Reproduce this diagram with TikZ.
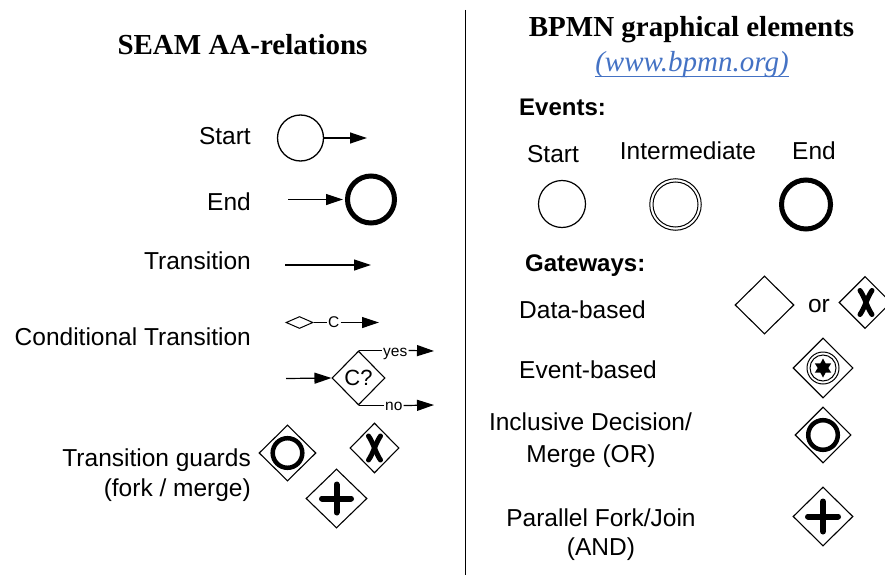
\documentclass[tikz,border=0pt]{standalone}
\usepackage{fontspec}
\setmainfont{Liberation Sans}
\newfontfamily\titlefont{Liberation Serif}
\usetikzlibrary{arrows.meta,shapes.geometric}
\definecolor{linkblue}{RGB}{68,114,196}
\begin{document}
\begin{tikzpicture}[x=1pt,y=-1pt,
  lbl/.style={inner sep=0pt,font=\fontsize{24.5}{29}\selectfont},
  hdr/.style={inner sep=0pt,font=\fontsize{24}{29}\selectfont\bfseries},
  ttl/.style={inner sep=0pt,font=\fontsize{29}{34}\selectfont\titlefont\bfseries},
  small/.style={inner sep=1pt,font=\fontsize{15.5}{18}\selectfont},
  thin/.style={line width=1.2pt},
  arr/.style={line width=1.2pt,-{Triangle[length=17pt,width=11pt]}},
  gate/.style={diamond,draw,line width=1.1pt,inner sep=0pt},
  ev/.style={circle,draw,inner sep=0pt},
  bold/.style={line width=5pt,line cap=round}
]
\useasboundingbox (0,0) rectangle (885,575);

% divider
\draw[line width=1.5pt] (465.5,10) coordinate (dtop) -- (465.5,575) coordinate (dbot);

% ---------- left column ----------
\node[ttl,anchor=base] (ltitle) at (242.5,55) {SEAM AA-relations};

\node[lbl,anchor=base east] (lstart) at (251,144) {Start};
\node[lbl,anchor=base east] (lend) at (251,210) {End};
\node[lbl,anchor=base east] (ltrans) at (251,269) {Transition};
\node[lbl,anchor=base east] (lcond) at (251,345) {Conditional Transition};
\node[lbl,anchor=base east] (lguard1) at (251,466) {Transition guards};
\node[lbl,anchor=base east] (lguard2) at (251,496) {(fork / merge)};

% start event
\node[ev,line width=1.3pt,minimum size=46] (sc) at (300.5,138) {};
\coordinate (sce) at (367,138);
\draw[arr] (sc.east) -- (sce);

% end event
\node[ev,line width=5pt,minimum size=47] (ec) at (371,199.5) {};
\coordinate (ecs) at (288,199.5);
\draw[arr,shorten >=2pt] (ecs) -- (ec.west);

% transition
\coordinate (ts) at (285,265);
\coordinate (te) at (371,265);
\draw[arr] (ts) -- (te);

% conditional transition (small diamond)
\node[gate,line width=1pt,minimum width=27,minimum height=12] (cd) at (299.5,322.5) {};
\node[small] (cc) at (333.7,322.5) {C};
\coordinate (cce) at (379,322.5);
\draw[thin] (cd.east) -- (cc.west);
\draw[arr] (cc.east) -- (cce);

% C? decision
\node[gate,minimum width=53,minimum height=54,font=\fontsize{22}{26}\selectfont] (cq) at (358.5,378) {C?};
\coordinate (cqs) at (286,378.5);
\draw[arr] (cqs) -- (cq.west);
\node[small,anchor=base west] (yes) at (382,356.5) {yes};
\coordinate (yese) at (434,351);
\draw[thin] (cq.north) -- (cq.north -| yes.west);
\draw[arr] (cq.north -| yes.east) -- (yese);
\node[small,anchor=base west] (no) at (384,410) {no};
\coordinate (noe) at (434,405);
\draw[thin] (cq.south) -- (cq.south -| no.west);
\draw[arr] (cq.south -| no.east) -- (noe);

% transition guards
\node[gate,minimum width=57,minimum height=56] (go) at (287.5,453) {};
\draw[line width=4.5pt] (go.center) circle[radius=14.8];
\node[gate,minimum width=49,minimum height=50] (gx) at (374.5,448) {};
\draw[bold] ([shift={(-6,-12)}]gx.center) .. controls ([shift={(-1,-5)}]gx.center) and ([shift={(1,5)}]gx.center) .. ([shift={(6,12)}]gx.center);
\draw[bold] ([shift={(6,-12)}]gx.center) .. controls ([shift={(1,-5)}]gx.center) and ([shift={(-1,5)}]gx.center) .. ([shift={(-6,12)}]gx.center);
\node[gate,minimum width=61,minimum height=59] (gp) at (336.5,498.5) {};
\draw[line width=6pt,line cap=round] ([xshift=-14.5pt]gp.center) -- ([xshift=14.5pt]gp.center);
\draw[line width=6pt,line cap=round] ([yshift=-14pt]gp.center) -- ([yshift=14pt]gp.center);

% ---------- right column ----------
\node[ttl,anchor=base] (rtitle) at (691.5,37) {BPMN graphical elements};
\node[inner sep=0pt,anchor=base,text=linkblue,font=\fontsize{29}{34}\selectfont\titlefont\itshape] (url) at (692,72) {(www.bpmn.org)};
\draw[linkblue,line width=1pt] ([yshift=-4.5pt]url.base west) -- ([yshift=-4.5pt]url.base east);

\node[hdr,anchor=base west] (events) at (519,115) {Events:};
\node[lbl,anchor=base] (rstart) at (553,162) {Start};
\node[lbl,anchor=base] (rinter) at (688,159) {Intermediate};
\node[lbl,anchor=base] (rend) at (814,159) {End};

\node[ev,line width=1.2pt,minimum size=47] (bs) at (562,204) {};
\node[ev,line width=1pt,minimum size=51.5] (bi) at (675.5,204.5) {};
\node[ev,line width=1pt,minimum size=45] (bi2) at (bi.center) {};
\node[ev,line width=5pt,minimum size=49] (be) at (806,204.5) {};

\node[hdr,anchor=base west] (gateways) at (525,271) {Gateways:};
\node[lbl,anchor=base west] (databased) at (519,318) {Data-based};
\node[lbl,anchor=base west] (eventbased) at (519,378) {Event-based};
\node[lbl,anchor=base] (incl1) at (590.5,430) {Inclusive Decision/};
\node[lbl,anchor=base] (incl2) at (591,462) {Merge (OR)};
\node[lbl,anchor=base] (par1) at (601,526) {Parallel Fork/Join};
\node[lbl,anchor=base] (par2) at (601,555) {(AND)};

% data-based
\node[gate,minimum width=59,minimum height=58] (dg) at (764.5,305) {};
\node[lbl,anchor=base] (or) at (819,312) {or};
\node[gate,minimum width=52,minimum height=52] (dx) at (865,302.5) {};
\draw[bold] ([shift={(-5,-12)}]dx.center) .. controls ([shift={(0,-5)}]dx.center) and ([shift={(2,5)}]dx.center) .. ([shift={(7,12)}]dx.center);
\draw[bold] ([shift={(7,-12)}]dx.center) .. controls ([shift={(2,-5)}]dx.center) and ([shift={(0,5)}]dx.center) .. ([shift={(-5,12)}]dx.center);

% event-based
\node[gate,minimum width=60,minimum height=60] (eg) at (823,368) {};
\draw[line width=1pt] (eg.center) circle[radius=16] (eg.center) circle[radius=13];
\fill ([shift={(90:9.5)}]eg.center)
  \foreach \i in {1,...,11} {
    -- ([shift={(90+30*\i:{mod(\i,2)==1 ? 5.3 : 9.5})}]eg.center)
  } -- cycle;

% inclusive
\node[gate,minimum width=56,minimum height=56] (ig) at (823,435) {};
\draw[line width=4.5pt] (ig.center) circle[radius=14.8];

% parallel
\node[gate,minimum width=60,minimum height=59] (pg) at (823,516.5) {};
\draw[line width=6pt,line cap=round] ([xshift=-15pt]pg.center) -- ([xshift=15pt]pg.center);
\draw[line width=6pt,line cap=round] ([yshift=-15pt]pg.center) -- ([yshift=15pt]pg.center);
\end{tikzpicture}
\end{document}
